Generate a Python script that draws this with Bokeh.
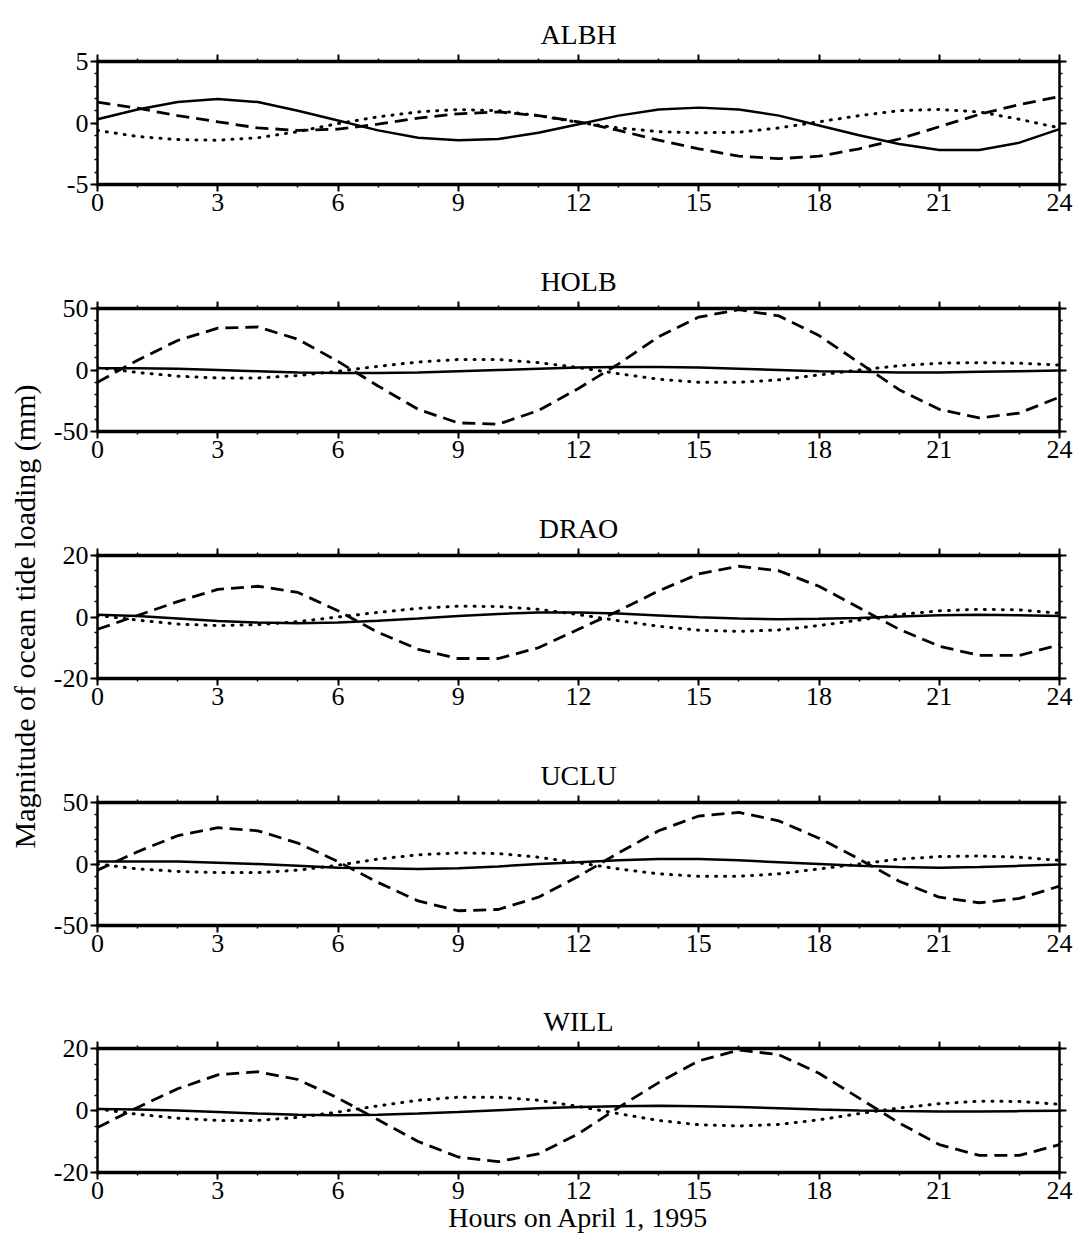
import math
from bokeh.plotting import figure
from bokeh.models import Range1d, LinearAxis, FixedTicker, Label, NumeralTickFormatter
from bokeh.layouts import row, column
from bokeh.embed import file_html
from bokeh.resources import INLINE

# ---------------- data ----------------
hours = list(range(25))
x_ticks = [0, 3, 6, 9, 12, 15, 18, 21, 24]
x_minor = list(range(25))

stations = ["ALBH", "HOLB", "DRAO", "UCLU", "WILL"]
y_limits = [5, 50, 20, 50, 20]
y_ticks = [[-5, 0, 5], [-50, 0, 50], [-20, 0, 20], [-50, 0, 50], [-20, 0, 20]]

albh_solid = [0.3, 1.1, 1.7, 1.95, 1.7, 1.0, 0.2, -0.6, -1.2, -1.4, -1.3, -0.8, -0.1,
              0.6, 1.1, 1.25, 1.1, 0.6, -0.2, -1.0, -1.7, -2.2, -2.2, -1.6, -0.5]
albh_dashed = [1.7, 1.2, 0.6, 0.1, -0.4, -0.6, -0.5, -0.1, 0.4, 0.75, 0.9, 0.6, 0.1,
               -0.6, -1.4, -2.1, -2.7, -2.9, -2.7, -2.1, -1.3, -0.3, 0.7, 1.5, 2.15]
albh_dotted = [-0.6, -1.1, -1.35, -1.4, -1.2, -0.7, -0.05, 0.5, 0.9, 1.1, 1.0, 0.6, 0.05,
               -0.4, -0.7, -0.8, -0.75, -0.4, 0.1, 0.6, 1.0, 1.1, 0.9, 0.3, -0.4]

holb_solid = [1.5, 1.5, 1, 0, -1, -2, -2.5, -2.5, -2, -1, 0, 1, 2,
              2.5, 2.5, 2, 1, 0, -1, -1.5, -2, -2, -1.5, -1, -0.5]
holb_dashed = [-10, 8, 24, 34, 35, 25, 7, -13, -32, -43, -44, -33, -15,
               5, 27, 43, 49, 44, 28, 6, -16, -32, -39, -35, -22]
holb_dotted = [2, -2, -5, -6.5, -6.5, -4.5, -1, 3, 6.5, 8.5, 8.5, 6, 2,
               -3, -7.5, -10, -10, -8, -4, 0, 3.5, 5.5, 6, 5.5, 4]

drao_solid = [0.7, 0.3, -0.5, -1.3, -1.8, -2, -1.8, -1.2, -0.5, 0.3, 1, 1.5, 1.5,
              1.1, 0.5, -0.1, -0.5, -0.7, -0.6, -0.3, 0.2, 0.6, 0.7, 0.6, 0.3]
drao_dashed = [-4, 0.5, 5, 9, 10, 8, 2, -5, -10.5, -13.5, -13.5, -10, -4,
               2, 8.5, 14, 16.5, 15, 10, 3, -4, -9.5, -12.5, -12.5, -9]
drao_dotted = [0.5, -1, -2.3, -2.8, -2.5, -1.5, 0, 1.5, 2.8, 3.5, 3.4, 2.5, 0.8,
               -1.2, -3, -4.3, -4.7, -4.2, -2.8, -1, 0.8, 2, 2.5, 2.3, 1.2]

uclu_solid = [2, 2, 2, 1, 0, -1.5, -3, -3.5, -4, -3.5, -2, 0, 1.5,
              3, 4, 4, 3, 1.5, 0, -1.5, -2.5, -3, -2.5, -1.5, -0.5]
uclu_dashed = [-5, 10, 23, 29.5, 27, 17, 2, -15, -30, -38, -37, -27, -10,
               9, 27, 39, 42, 35, 21, 4, -14, -27, -31.5, -28, -18]
uclu_dotted = [0, -4, -6, -7, -7, -5, -1, 4, 7.5, 9, 8.5, 5.5, 1,
               -4, -8, -10, -10, -8, -4, 0, 4, 6, 6.5, 5.5, 3]

will_solid = [0.5, 0.3, 0, -0.5, -1, -1.4, -1.5, -1.4, -1, -0.5, 0.1, 0.7, 1.1,
              1.4, 1.5, 1.4, 1.1, 0.7, 0.3, 0, -0.2, -0.3, -0.3, -0.2, -0.1]
will_dashed = [-5.5, 1, 7, 11.5, 12.5, 10, 4, -3, -10, -15, -16.5, -14, -7.5,
               1, 9, 16, 19.5, 18, 12, 4, -4, -11, -14.5, -14.5, -11]
will_dotted = [0.5, -1.2, -2.5, -3.2, -3.2, -2.2, -0.5, 1.5, 3.3, 4.3, 4.3, 3.3, 1.3,
               -1, -3.2, -4.6, -5, -4.5, -3, -1, 0.8, 2.2, 3, 2.9, 2]

solid_series = [albh_solid, holb_solid, drao_solid, uclu_solid, will_solid]
dashed_series = [albh_dashed, holb_dashed, drao_dashed, uclu_dashed, will_dashed]
dotted_series = [albh_dotted, holb_dotted, drao_dotted, uclu_dotted, will_dotted]

y_label_text = "Magnitude of ocean tide loading (mm)"
x_label_text = "Hours on April 1, 1995"

# ---------------- style ----------------
FONT = "Liberation Serif"
TICK_SIZE = "26px"
LABEL_W = 50
TOTAL_W = 1077
TOTAL_H = 1245


def style_axis(ax, line_width, mode):
    ax.axis_line_width = line_width
    ax.axis_line_color = "black"
    ax.major_tick_out = 7
    ax.major_tick_in = 0
    ax.minor_tick_out = 3
    ax.minor_tick_in = 0
    ax.major_tick_line_width = 2
    ax.minor_tick_line_width = 1.5
    ax.major_label_text_font = FONT
    ax.major_label_standoff = 2
    ax.formatter = NumeralTickFormatter(format="0")
    if mode == "shown":
        ax.major_label_text_font_size = TICK_SIZE
        ax.major_label_text_color = "black"
    elif mode == "spacer":
        # labels are not painted, but keep room between the frame and the title
        ax.major_label_text_font_size = "11px"
        ax.major_label_text_color = None
        ax.major_label_text_alpha = 0
    else:
        ax.major_label_text_font_size = "0px"
        ax.major_label_text_color = None
        ax.major_label_text_alpha = 0


def make_panel(i, height, top_border, bottom_border, xlabel=None):
    lim = y_limits[i]
    p = figure(width=TOTAL_W - LABEL_W, height=height, output_backend="svg",
               toolbar_location=None, x_range=Range1d(0, 24), y_range=Range1d(-lim, lim),
               x_axis_type=None, y_axis_type=None,
               min_border_left=96 - LABEL_W, min_border_right=18,
               min_border_top=top_border, min_border_bottom=bottom_border)
    p.outline_line_color = None
    p.background_fill_color = "white"
    p.border_fill_color = "white"

    xt = FixedTicker(ticks=x_ticks, minor_ticks=x_minor)
    step = 1 if lim == 5 else (10 if lim == 50 else 5)
    minors = []
    v = -lim
    while v <= lim + 1e-9:
        minors.append(v)
        v += step
    yt = FixedTicker(ticks=y_ticks[i], minor_ticks=minors)

    below = LinearAxis(ticker=xt)
    style_axis(below, 3.5, "shown")
    if xlabel:
        below.axis_label = xlabel
        below.axis_label_text_font = FONT
        below.axis_label_text_font_style = "normal"
        below.axis_label_text_font_size = "28px"
        below.axis_label_text_color = "black"
        below.axis_label_standoff = 0
    above = LinearAxis(ticker=xt)
    style_axis(above, 3.5, "spacer")
    left = LinearAxis(ticker=yt)
    style_axis(left, 2.5, "shown")
    right = LinearAxis(ticker=yt)
    style_axis(right, 2.5, "hidden")
    p.add_layout(below, "below")
    p.add_layout(above, "above")
    p.add_layout(left, "left")
    p.add_layout(right, "right")

    p.title.text = stations[i]
    p.title.align = "center"
    p.title.vertical_align = "top"
    p.title.text_font = FONT
    p.title.text_font_style = "normal"
    p.title.text_font_size = "28px"
    p.title.text_color = "black"
    p.title.standoff = 6

    p.line(hours, solid_series[i], line_color="black", line_width=2.5)
    p.line(hours, dashed_series[i], line_color="black", line_width=2.8, line_dash="13 7")
    p.line(hours, dotted_series[i], line_color="black", line_width=3,
           line_dash="1 8", line_cap="round")
    return p


panels = []
for i in range(5):
    if i < 4:
        panels.append(make_panel(i, 247, 61, 63))
    else:
        panels.append(make_panel(i, 257, 60, 73, xlabel=x_label_text))

yfig = figure(width=LABEL_W, height=TOTAL_H, output_backend="svg", toolbar_location=None,
              x_range=Range1d(0, LABEL_W), y_range=Range1d(0, TOTAL_H),
              x_axis_type=None, y_axis_type=None, min_border=0)
yfig.outline_line_color = None
yfig.add_layout(Label(x=24, y=TOTAL_H - 616, text=y_label_text, angle=math.pi / 2,
                      text_align="center", text_baseline="middle",
                      text_font=FONT, text_font_size="30px", text_color="black"))

layout = row(yfig, column(*panels, spacing=0), spacing=0)

with open("out.html", "w") as f:
    f.write(file_html(layout, INLINE))
